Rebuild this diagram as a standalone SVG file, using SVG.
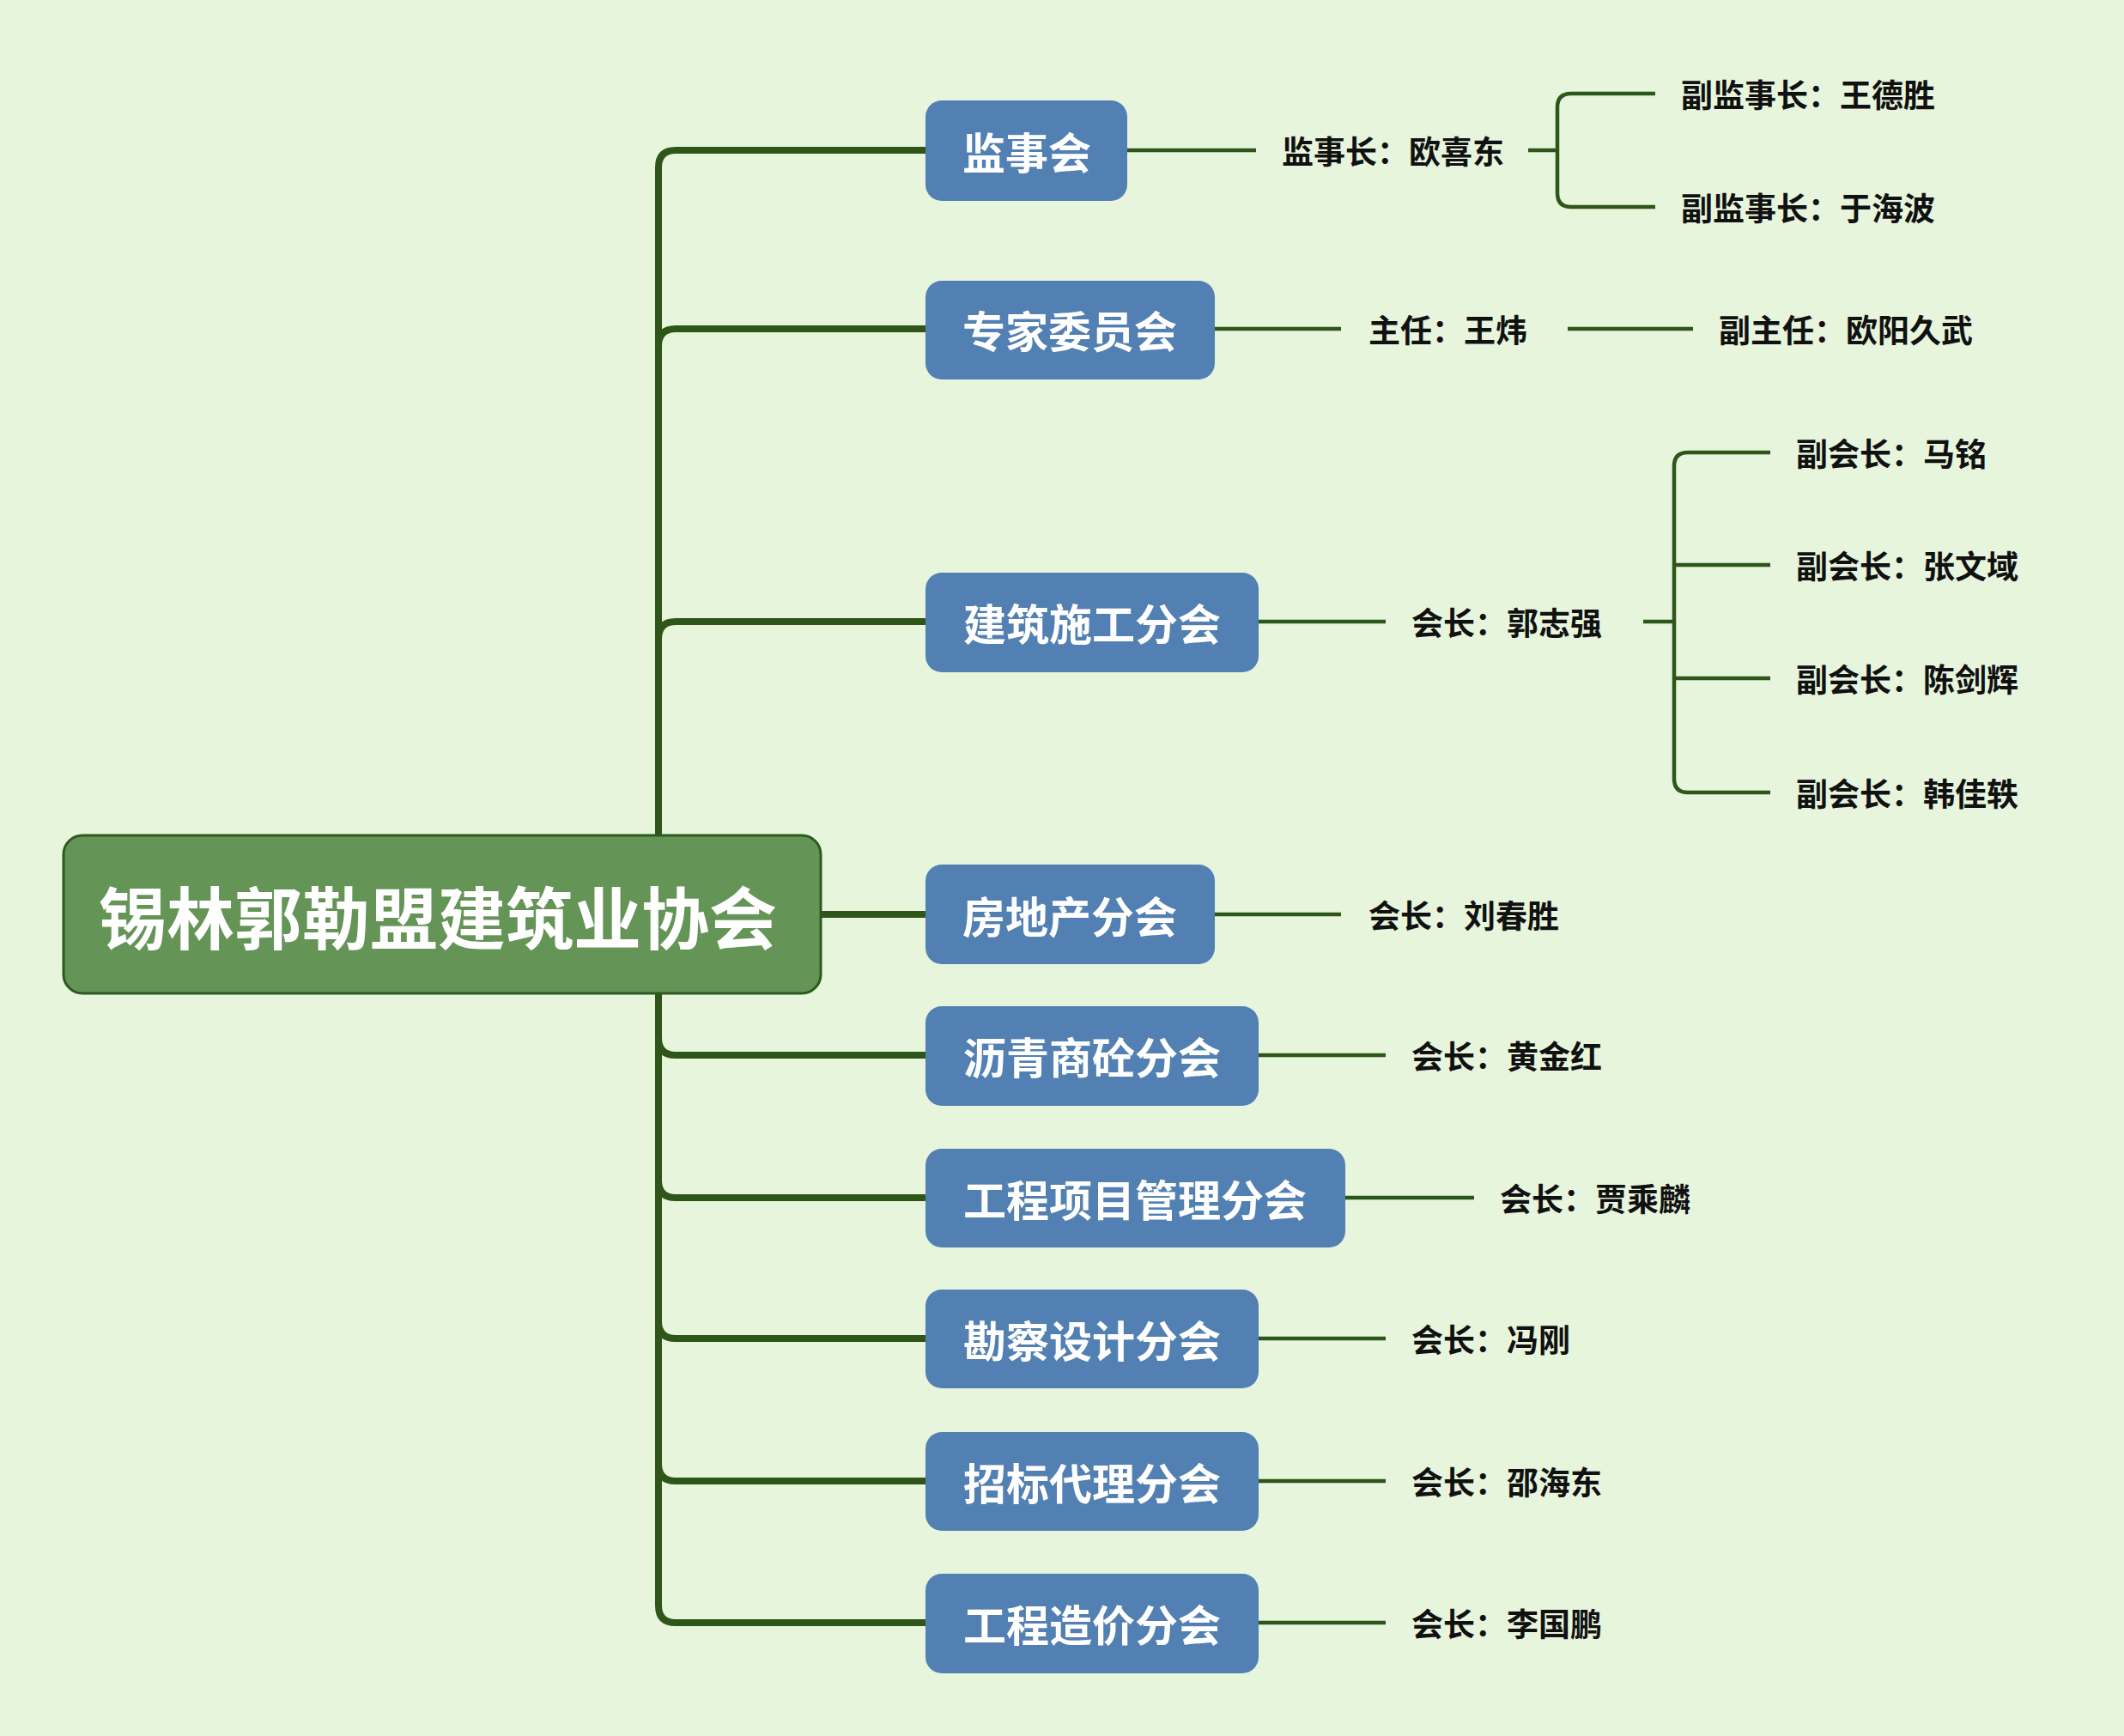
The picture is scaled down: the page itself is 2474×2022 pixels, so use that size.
<svg xmlns="http://www.w3.org/2000/svg" width="2474" height="2022" viewBox="0 0 2474 2022">
<style>
.t{font-family:"Noto Sans CJK SC","Liberation Sans",sans-serif;font-weight:bold}
.n rect{fill:#5280b2}
.n text{fill:#fff;font-size:50px;text-anchor:middle;dominant-baseline:central}
.c{fill:#111;font-size:37px;dominant-baseline:central}
.tr{fill:none;stroke:#2f5619;stroke-width:8}
.th{fill:none;stroke:#2f5619;stroke-width:4.5}
</style>
<rect width="2474" height="2022" fill="#e6f5dc"/>
<g id="connectors">
<path class="tr" d="M1078 175 H787 Q767 175 767 195 V1870 Q767 1890 787 1890 H1078"/>
<path class="tr" d="M767 403 Q767 383 787 383 H1078 M767 744 Q767 724 787 724 H1078 M956 1065 H1078 M767 1209 Q767 1229 787 1229 H1078 M767 1375 Q767 1395 787 1395 H1078 M767 1539 Q767 1559 787 1559 H1078 M767 1705 Q767 1725 787 1725 H1078"/>
<path class="th" d="M1313 175 H1463 M1780 175 H1814 M1928 109 H1830 Q1814 109 1814 125 V225 Q1814 241 1830 241 H1928"/>
<path class="th" d="M1415 383 H1562 M1826 383 H1972"/>
<path class="th" d="M1466 724 H1614 M1914 724 H1950 M2062 527 H1966 Q1950 527 1950 543 V907 Q1950 923 1966 923 H2062 M1950 658 H2062 M1950 790 H2062"/>
<path class="th" d="M1415 1065 H1562 M1466 1229 H1614 M1567 1395 H1717 M1466 1559 H1614 M1466 1725 H1614 M1466 1890 H1614"/>
</g>
<g id="root"><rect x="74" y="973" width="882" height="184" rx="22" fill="#649456" stroke="#2d5a1e" stroke-width="3"/><text class="t" x="510" y="1065" fill="#fff" font-size="79" text-anchor="middle" dominant-baseline="central">锡林郭勒盟建筑业协会</text></g>
<g id="n1" class="n t"><rect x="1078" y="117" width="235" height="117" rx="19"/><text x="1196" y="175">监事会</text></g>
<g id="n2" class="n t"><rect x="1078" y="327" width="337" height="115" rx="19"/><text x="1246" y="383">专家委员会</text></g>
<g id="n3" class="n t"><rect x="1078" y="667" width="388" height="116" rx="19"/><text x="1272" y="724">建筑施工分会</text></g>
<g id="n4" class="n t"><rect x="1078" y="1007" width="337" height="116" rx="19"/><text x="1246" y="1065">房地产分会</text></g>
<g id="n5" class="n t"><rect x="1078" y="1172" width="388" height="116" rx="19"/><text x="1272" y="1229">沥青商砼分会</text></g>
<g id="n6" class="n t"><rect x="1078" y="1338" width="489" height="115" rx="19"/><text x="1322" y="1395">工程项目管理分会</text></g>
<g id="n7" class="n t"><rect x="1078" y="1502" width="388" height="115" rx="19"/><text x="1272" y="1559">勘察设计分会</text></g>
<g id="n8" class="n t"><rect x="1078" y="1668" width="388" height="115" rx="19"/><text x="1272" y="1725">招标代理分会</text></g>
<g id="n9" class="n t"><rect x="1078" y="1833" width="388" height="116" rx="19"/><text x="1272" y="1890">工程造价分会</text></g>
<g id="labels" class="t">
<text class="c" x="1493" y="175">监事长：欧喜东</text>
<text class="c" x="1958" y="109">副监事长：王德胜</text>
<text class="c" x="1958" y="241">副监事长：于海波</text>
<text class="c" x="1594" y="383">主任：王炜</text>
<text class="c" x="2002" y="383">副主任：欧阳久武</text>
<text class="c" x="1644" y="724">会长：郭志强</text>
<text class="c" x="2092" y="527">副会长：马铭</text>
<text class="c" x="2092" y="658">副会长：张文域</text>
<text class="c" x="2092" y="790">副会长：陈剑辉</text>
<text class="c" x="2092" y="923">副会长：韩佳轶</text>
<text class="c" x="1594" y="1065">会长：刘春胜</text>
<text class="c" x="1644" y="1229">会长：黄金红</text>
<text class="c" x="1747" y="1395">会长：贾乘麟</text>
<text class="c" x="1644" y="1559">会长：冯刚</text>
<text class="c" x="1644" y="1725">会长：邵海东</text>
<text class="c" x="1644" y="1890">会长：李国鹏</text>
</g>
</svg>
